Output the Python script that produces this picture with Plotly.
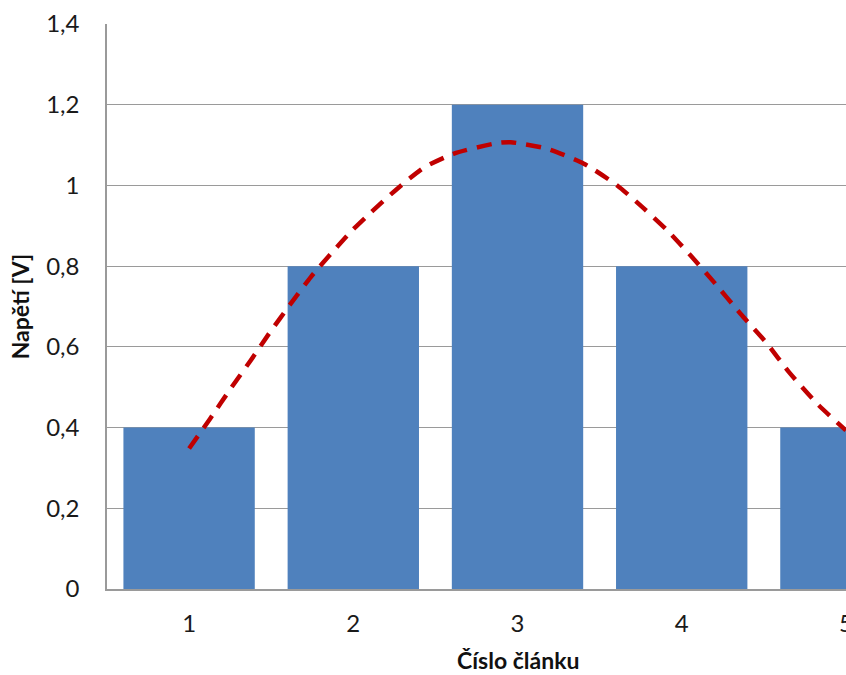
import plotly.graph_objects as go

categories = [1, 2, 3, 4, 5]
voltages = [0.4, 0.8, 1.2, 0.8, 0.4]

# trend curve
trend_x = [1.0, 1.128, 1.254, 1.376, 1.487, 1.619, 1.741, 1.873, 1.984, 2.107, 2.268, 2.43,
           2.613, 2.877, 2.958, 3.181, 3.404, 3.607, 3.769, 3.911, 4.053, 4.195, 4.358,
           4.52, 4.652, 4.825, 5.0]
trend_y = [0.348, 0.422, 0.497, 0.567, 0.633, 0.707, 0.773, 0.835, 0.885, 0.933, 0.992, 1.044,
           1.079, 1.105, 1.107, 1.091, 1.054, 1.0, 0.943, 0.889, 0.827, 0.761, 0.682,
           0.608, 0.538, 0.459, 0.393]

y_tick_vals = [0, 0.2, 0.4, 0.6, 0.8, 1.0, 1.2, 1.4]
y_tick_text = ["0", "0,2", "0,4", "0,6", "0,8", "1", "1,2", "1,4"]
x_tick_text = ["1", "2", "3", "4", "5"]

x_title = "Číslo článku"
y_title = "Napětí [V]"

FONT = "Lato"
GRID = "#9a9a9a"
TXT = "#1a1a1a"

fig = go.Figure()
fig.add_trace(go.Bar(x=categories, y=voltages, marker=dict(color="#4F81BD", line=dict(width=0)),
                     width=0.8, showlegend=False))
fig.add_trace(go.Scatter(x=trend_x, y=trend_y, mode="lines",
                         line=dict(color="#C00000", width=4.5, dash="15px,10px", shape="spline", smoothing=0.6),
                         showlegend=False))

fig.update_layout(
    width=846, height=675,
    margin=dict(l=107, r=0, t=24, b=86, autoexpand=False),
    plot_bgcolor="white", paper_bgcolor="white",
    font=dict(family=FONT, size=24, color=TXT),
    xaxis=dict(range=[0.5, 5.0005], tickvals=categories, ticktext=x_tick_text,
               showgrid=False, showline=True, linecolor=GRID, linewidth=1.5, automargin=False,
               ticks="", ticklabelstandoff=12, zeroline=False, ticklabeloverflow="allow",
               tickfont=dict(family=FONT, size=24, color=TXT)),
    yaxis=dict(range=[0, 1.4], tickvals=y_tick_vals, ticktext=y_tick_text,
               showgrid=True, gridcolor=GRID, gridwidth=1.3, automargin=False,
               showline=True, linecolor=GRID, linewidth=1.5, zeroline=False,
               ticks="", ticklabelstandoff=21,
               tickfont=dict(family=FONT, size=24, color=TXT),
               title=dict(text=y_title, font=dict(family=FONT, size=23, color="#111111", weight="bold"),
                          standoff=10)),
    annotations=[dict(x=3, y=0, xref="x", yref="paper", yshift=-71, text=x_title, showarrow=False,
                      font=dict(family=FONT, size=23, color="#111111", weight="bold"),
                      xanchor="center", yanchor="middle")],
)

fig.write_html("out.html")
